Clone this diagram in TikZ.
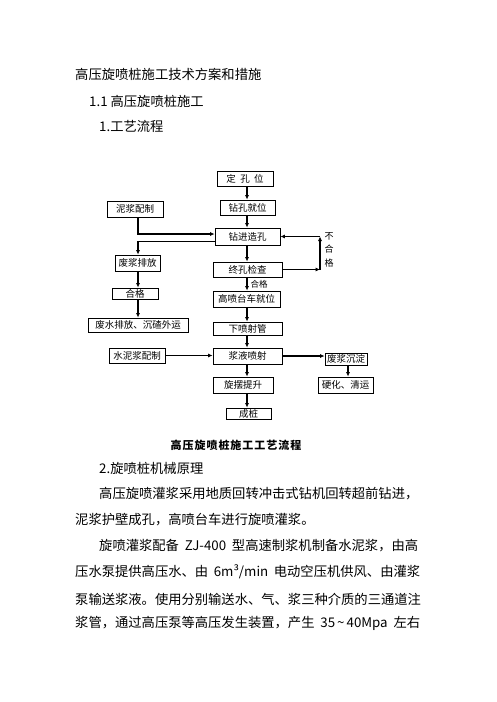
\documentclass[tikz,border=0pt]{standalone}
\usepackage{fontspec}
\setmainfont{Noto Sans CJK SC}
\usetikzlibrary{arrows.meta,calc}
\tikzset{
  box/.style={draw=black, line width=0.9pt, inner sep=0pt, font=\fontsize{9.5}{11}\selectfont},
  arr/.style={line width=1.1pt, -{Latex[length=4.5pt,width=4.2pt]}},
  body/.style={anchor=west, inner sep=0pt, font=\fontsize{13.3}{15}\selectfont},
}
\begin{document}
\begin{tikzpicture}[x=1pt,y=-1pt]
\useasboundingbox[fill=white] (0,0) rectangle (496,702);
% headings
\node[body] (h1) at (75,74) {高压旋喷桩施工技术方案和措施};
\node[body] (h2) at (89,101) {1.1 高压旋喷桩施工};
\node[body] (h3) at (99,126) {1.工艺流程};
% spines
\coordinate (sp) at (247,0);
\coordinate (lsp) at (138,0);
\coordinate (fb) at (320,0);
\coordinate (rsp) at (348,0);
% boxes
\node[box, minimum width=56pt, minimum height=15pt] (dkw) at (245,178.5) {定\ \ 孔\ \ 位};
\node[box, minimum width=55pt, minimum height=15pt] (zkjw) at (247.5,207.5) {钻孔就位};
\node[box, minimum width=56pt, minimum height=16pt] (njpz) at (135,209) {泥浆配制};
\node[box, minimum width=65pt, minimum height=17pt] (zjzk) at (247.5,236.5) {钻进造孔};
\node[box, minimum width=45pt, minimum height=16pt] (fjpf) at (137.5,263) {废浆排放};
\node[box, minimum width=69pt, minimum height=15pt] (zkjc) at (247.5,269.5) {终孔检查};
\node[box, minimum width=46pt, minimum height=11pt] (hg) at (135,293.5) {合格};
\node[box, minimum width=100pt, minimum height=14pt] (fspf) at (138,325) {废水排放、沉碴外运};
\node[box, minimum width=67pt, minimum height=16pt] (hptc) at (246.5,299) {高喷台车就位};
\node[box, minimum width=69pt, minimum height=13pt] (xpsg) at (247.5,328.5) {下喷射管};
\node[box, minimum width=56pt, minimum height=15pt] (snjp) at (137,355.5) {水泥浆配制};
\node[box, minimum width=69pt, minimum height=16pt] (jyps) at (247.5,356) {浆液喷射};
\node[box, minimum width=42pt, minimum height=12pt] (fjcd) at (346,359) {废浆沉淀};
\node[box, minimum width=55pt, minimum height=16pt] (yhqy) at (345.5,385) {硬化、清运};
\node[box, minimum width=60pt, minimum height=16pt] (xbts) at (243,385) {旋摆提升};
\node[box, minimum width=45pt, minimum height=11pt] (cz) at (248.5,413.5) {成桩};
% labels
\node[anchor=west, inner sep=0pt, font=\fontsize{8.5}{10}\selectfont] (lhg) at (250.5,284.5) {合格};
\node[align=center, inner sep=0pt, font=\fontsize{9}{13.5}\selectfont] (bhg) at (329,249.5) {不\\合\\格};
% main spine arrows
\draw[arr] (dkw.south -| sp) -- (zkjw.north -| sp);
\draw[arr] (zkjw.south -| sp) -- (zjzk.north -| sp);
\draw[arr] (zjzk.south -| sp) -- (zkjc.north -| sp);
\draw[arr] (zkjc.south -| sp) -- (hptc.north -| sp);
\draw[arr] (hptc.south -| sp) -- (xpsg.north -| sp);
\draw[arr] (xpsg.south -| sp) -- (jyps.north -| sp);
\draw[arr] (jyps.south -| sp) -- (xbts.north -| sp);
\draw[arr] (xbts.south -| sp) -- (cz.north -| sp);
% left side
\draw[arr] (njpz.south -| lsp) |- ($(zjzk.west)+(0,-2.5)$);
\draw[arr] ($(zjzk.west)+(0,5)$) -| (fjpf.north -| lsp);
\draw[arr] (fjpf.south -| lsp) -- (hg.north -| lsp);
\draw[arr] (hg.south -| lsp) -- (fspf.north -| lsp);
\draw[arr] (snjp.east) -- (snjp.east -| jyps.west);
% right side
\draw[arr] (jyps.east) -- (jyps.east -| fjcd.west);
\draw[arr] (fjcd.south -| rsp) -- (yhqy.north -| rsp);
% feedback loop
\draw[arr] (zkjc.east) -- (zkjc.east -| fb);
\draw[arr] (zkjc.east -| fb) -- (zjzk.east -| fb);
\draw[arr] (zjzk.east -| fb) -- (zjzk.east);
% caption
\node[inner sep=0pt, font=\fontsize{11}{13}\selectfont\bfseries\addfontfeature{LetterSpace=9}] (cap) at (236,445) {高压旋喷桩施工工艺流程};
% body text
\node[body] (b1) at (99,468) {2.旋喷桩机械原理};
\node[body] (b2) at (99,494) {高压旋喷灌浆采用地质回转冲击式钻机回转超前钻进，};
\node[body] (b3) at (75,520) {泥浆护壁成孔，高喷台车进行旋喷灌浆。};
\node[body] (b4) at (99,546) {\makebox[319pt][s]{旋喷灌浆配备 ZJ-400 型高速制浆机制备水泥浆，由高}};
\node[body] (b5) at (75,572) {\makebox[345pt][s]{压水泵提供高压水、由 6m³/min 电动空压机供风、由灌浆}};
\node[body] (b6) at (75,599) {泵输送浆液。使用分别输送水、气、浆三种介质的三通道注};
\node[body] (b7) at (75,623) {\makebox[345pt][s]{浆管，通过高压泵等高压发生装置，产生 35\hspace{2pt}\textasciitilde\hspace{2pt}40Mpa 左右}};
\end{tikzpicture}
\end{document}
